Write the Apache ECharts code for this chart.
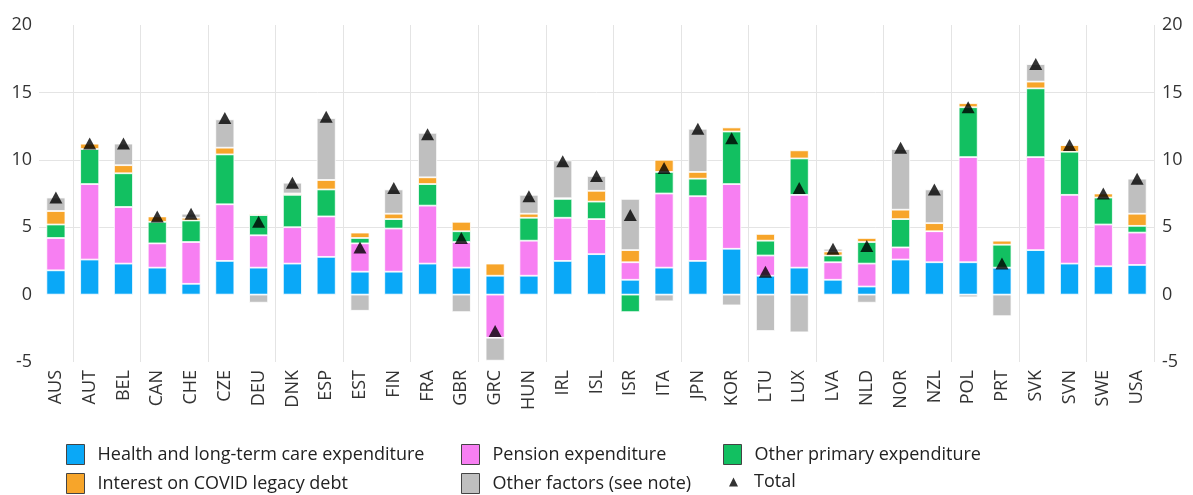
<!DOCTYPE html>
<html>
<head>
<meta charset="utf-8">
<script src="https://cdn.jsdelivr.net/npm/echarts@6/dist/echarts.min.js"></script>
<style>
  html, body { margin: 0; padding: 0; background: #fff; }
  #chart { width: 1193px; height: 495px; }
</style>
</head>
<body>
<div id="chart"></div>
<script>
// country codes
var countries = ["AUS", "AUT", "BEL", "CAN", "CHE", "CZE", "DEU", "DNK", "ESP", "EST", "FIN",
  "FRA", "GBR", "GRC", "HUN", "IRL", "ISL", "ISR", "ITA", "JPN", "KOR", "LTU", "LUX",
  "LVA", "NLD", "NOR", "NZL", "POL", "PRT", "SVK", "SVN", "SWE", "USA"];

var health = [1.8, 2.6, 2.3, 2.0, 0.8, 2.5, 2.0, 2.3, 2.8, 1.7, 1.7,
  2.3, 2.0, 1.4, 1.4, 2.5, 3.0, 1.1, 2.0, 2.5, 3.4, 1.4, 2.0,
  1.1, 0.6, 2.6, 2.4, 2.4, 2.0, 3.3, 2.3, 2.1, 2.2];
var pension = [2.4, 5.6, 4.2, 1.8, 3.1, 4.2, 2.4, 2.7, 3.0, 2.1, 3.2,
  4.3, 1.9, -3.2, 2.6, 3.2, 2.6, 1.3, 5.5, 4.8, 4.8, 1.5, 5.4,
  1.3, 1.7, 0.9, 2.3, 7.8, 0, 6.9, 5.1, 3.1, 2.4];
var otherPrimary = [1.0, 2.6, 2.5, 1.6, 1.6, 3.7, 1.5, 2.4, 2.0, 0.4, 0.7,
  1.6, 0.8, 0, 1.7, 1.4, 1.3, -1.3, 1.6, 1.3, 3.9, 1.1, 2.7,
  0.5, 1.6, 2.1, 0, 3.7, 1.7, 5.1, 3.2, 2.0, 0.5];
var interest = [1.0, 0.4, 0.6, 0.4, 0.2, 0.5, 0.1, 0.1, 0.7, 0.4, 0.4,
  0.5, 0.7, 0.9, 0.3, 0.05, 0.8, 0.9, 0.9, 0.5, 0.3, 0.5, 0.6,
  0.3, 0.3, 0.7, 0.6, 0.3, 0.3, 0.5, 0.5, 0.3, 0.9];
var otherFactors = [1.0, 0, 1.6, 0, 0.3, 2.1, -0.6, 0.8, 4.6, -1.2, 1.8,
  3.3, -1.3, -1.7, 1.4, 2.8, 1.1, 3.8, -0.5, 3.2, -0.8, -2.7, -2.8,
  0.2, -0.6, 4.5, 2.5, -0.2, -1.6, 1.3, 0, 0, 2.6];
var total = [7.2, 11.2, 11.2, 5.8, 6.0, 13.1, 5.4, 8.3, 13.2, 3.5, 7.9,
  11.9, 4.2, -2.7, 7.3, 9.9, 8.8, 5.9, 9.4, 12.3, 11.6, 1.7, 7.9,
  3.4, 3.6, 10.9, 7.8, 13.9, 2.3, 17.1, 11.1, 7.5, 8.6];

var yTicks = { min: -5, max: 20, interval: 5 };

var font = "'Open Sans', 'Noto Sans', sans-serif";
var myChart = echarts.init(document.getElementById("chart"));

function barSeries(name, data, color) {
  return {
    name: name,
    type: "bar",
    stack: "all",
    barWidth: 19,
    itemStyle: { color: color, borderColor: "#ffffff", borderWidth: 0.8 },
    data: data
  };
}

function legendBox(name, left, top, icon) {
  return {
    data: [{ name: name, icon: icon || "rect" }],
    left: left,
    top: top,
    padding: 0,
    itemWidth: icon ? 9 : 18,
    itemHeight: icon ? 9 : 20,
    itemStyle: icon ? { borderWidth: 0 } : { borderColor: "#444", borderWidth: 1 },
    textStyle: { fontFamily: font, fontSize: 18, color: "#222", padding: [0, 0, 0, icon ? 11 : 8] },
    selectedMode: false
  };
}

var option = {
  backgroundColor: "#fff",
  animation: false,
  grid: { left: 39, right: 39, top: 25, bottom: 133 },
  legend: [
    legendBox("Health and long-term care expenditure", 66, 444),
    legendBox("Pension expenditure", 461, 444),
    legendBox("Other primary expenditure", 723, 444),
    legendBox("Interest on COVID legacy debt", 66, 473),
    legendBox("Other factors (see note)", 461, 473),
    legendBox("Total", 729, 473, "triangle")
  ],
  xAxis: {
    type: "category",
    data: countries,
    axisLine: { show: false },
    axisTick: { show: false },
    axisLabel: { rotate: 90, fontFamily: font, fontSize: 18, color: "#333", margin: 8, interval: 0 },
    splitLine: {
      show: true,
      interval: function (i) { return i % 2 === 1; },
      lineStyle: { color: "#e4e4e4", width: 1 }
    }
  },
  yAxis: [
    {
      type: "value",
      min: yTicks.min, max: yTicks.max, interval: yTicks.interval,
      axisLine: { show: false },
      axisTick: { show: false },
      axisLabel: { fontFamily: font, fontSize: 18, color: "#333", margin: 7 },
      splitLine: {
        lineStyle: { color: ["rgba(0,0,0,0)", "rgba(0,0,0,0)", "#e4e4e4", "#e4e4e4", "#e4e4e4", "rgba(0,0,0,0)"] }
      }
    },
    {
      type: "value",
      position: "right",
      min: yTicks.min, max: yTicks.max, interval: yTicks.interval,
      axisLine: { show: false },
      axisTick: { show: false },
      axisLabel: { fontFamily: font, fontSize: 18, color: "#333", margin: 8 },
      splitLine: { show: false }
    }
  ],
  series: [
    barSeries("Health and long-term care expenditure", health, "#0aa8f7"),
    barSeries("Pension expenditure", pension, "#f77ff2"),
    barSeries("Other primary expenditure", otherPrimary, "#12c061"),
    barSeries("Interest on COVID legacy debt", interest, "#f7a52a"),
    barSeries("Other factors (see note)", otherFactors, "#bfbfbf"),
    {
      name: "Total",
      type: "scatter",
      symbol: "triangle",
      symbolSize: [13, 12],
      itemStyle: { color: "#000" },
      z: 10,
      data: total
    }
  ]
};

myChart.setOption(option);
</script>
</body>
</html>
